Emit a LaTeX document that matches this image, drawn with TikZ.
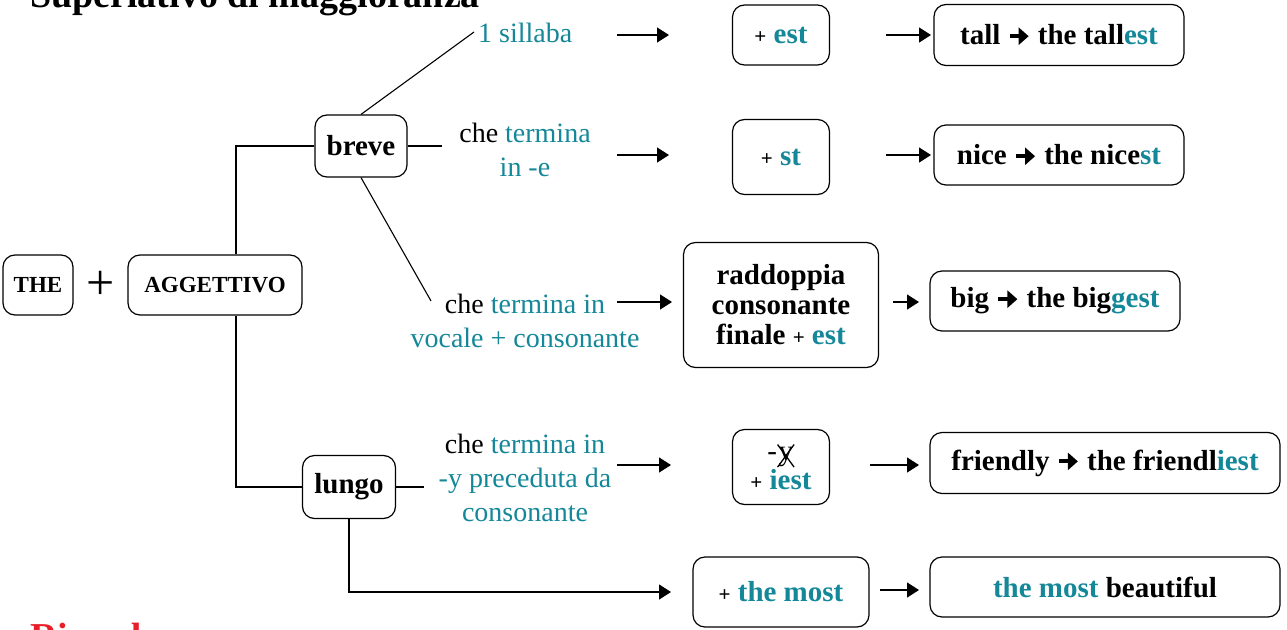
\documentclass[tikz,border=0pt]{standalone}
\usepackage{fontspec}
\setmainfont{Liberation Serif}
\usetikzlibrary{arrows.meta}
\definecolor{tl}{RGB}{20,135,152}
\definecolor{rd}{RGB}{232,30,40}
\newcommand\barr{\tikz[baseline={(0pt,-0.3em)}]\draw[line width=4pt,-{Triangle[length=10pt,width=17pt]}] (0pt,0pt) -- (19pt,0pt);}
\newcommand\crossy{\tikz[baseline=(Y.base)]{\node[inner sep=0pt,outer sep=0pt,minimum width=0pt,minimum height=0pt,draw=none] (Y) {y}; \draw[line width=1.3pt,sharp corners] ([xshift=-1pt]Y.south west) -- ([xshift=1pt,yshift=3pt]Y.north east) ([xshift=-1pt,yshift=3pt]Y.north west) -- ([xshift=1pt]Y.south east);}}
\newcommand\pl{{\fontsize{21}{21}\selectfont+}}
\begin{document}
\begin{tikzpicture}[x=1pt,y=-1pt,
 box/.style={draw, line width=1.2pt, rounded corners=12pt, align=center, inner sep=0pt},
 arr/.style={line width=1.3pt, -{Triangle[length=12pt,width=15pt]}},
 ln/.style={line width=1.1pt},
 lab/.style={align=center, font=\fontsize{28}{34}\selectfont, inner sep=0pt},
 bf/.style={font=\fontsize{29}{30}\selectfont\bfseries},
 sm/.style={font=\fontsize{23}{25}\selectfont\bfseries}]
\useasboundingbox (0,0) rectangle (1287,629);
% title and footer (cut off as in the reference)
\node[anchor=base west, inner sep=0pt, font=\fontsize{38}{40}\selectfont\bfseries] (title) at (30,8) {Superlativo di maggioranza};
\node[anchor=base west, inner sep=0pt, text=rd, font=\fontsize{38}{40}\selectfont\bfseries] (ric) at (30,649) {Ricorda:};
% left part
\node[box, sm, minimum width=70, minimum height=60] (the) at (38,285) {THE};
\node[font=\fontsize{50}{50}\selectfont, inner sep=0pt] (plus) at (101,285) {+};
\node[box, sm, minimum width=174, minimum height=60] (agg) at (215,285) {AGGETTIVO};
\node[box, bf, minimum width=92, minimum height=62] (breve) at (361,146) {breve};
\node[box, bf, minimum width=93, minimum height=63] (lungo) at (349,487) {lungo};
\coordinate (j1) at (236,146);
\coordinate (j2) at (236,487);
\draw[ln] (breve.west) -- (j1) -- (j1 |- agg.north);
\draw[ln] (lungo.west) -- (j2) -- (j2 |- agg.south);
% labels
\node[lab, anchor=base west] (l1) at (478,42) {\textcolor{tl}{1 sillaba}};
\node[lab] (l2) at (525,150) {che \textcolor{tl}{termina}\\\textcolor{tl}{in -e}};
\node[lab] (l3) at (525,321) {che \textcolor{tl}{termina in}\\\textcolor{tl}{vocale + consonante}};
\node[lab] (l4) at (525,478) {che \textcolor{tl}{termina in}\\\textcolor{tl}{-y preceduta da}\\\textcolor{tl}{consonante}};
\coordinate (c1) at (474,32);
\coordinate (c2) at (442,146);
\coordinate (c3) at (431,301);
\coordinate (c4) at (424,487);
\draw[ln] (breve.north) -- (c1);
\draw[ln] (breve.east) -- (c2);
\draw[ln] (breve.south) -- (c3);
\draw[ln] (lungo.east) -- (c4);
% middle boxes
\node[box, bf, minimum width=97, minimum height=60] (b1) at (781,35) {\pl\ \textcolor{tl}{est}};
\node[box, bf, minimum width=97, minimum height=75] (b2) at (781,157) {\pl\ \textcolor{tl}{st}};
\node[box, bf, minimum width=195, minimum height=125] (b3) at (781,305) {raddoppia\\consonante\\finale \pl\ \textcolor{tl}{est}};
\node[box, bf, minimum width=97, minimum height=75] (b4) at (781,467) {{\mdseries -\crossy}\\[-1pt]\pl\ \textcolor{tl}{iest}};
\node[box, bf, minimum width=176, minimum height=70] (b5) at (781,592) {\pl\ \textcolor{tl}{the most}};
% result boxes
\node[box, bf, minimum width=250, minimum height=61] (r1) at (1059,35) {tall \barr\ the tall\textcolor{tl}{est}};
\node[box, bf, minimum width=250, minimum height=60] (r2) at (1059,155) {nice \barr\ the nice\textcolor{tl}{st}};
\node[box, bf, minimum width=250, minimum height=60] (r3) at (1055,301) {big \barr\ the big\textcolor{tl}{gest}};
\node[box, bf, minimum width=350, minimum height=61] (r4) at (1105,463) {friendly \barr\ the friendl\textcolor{tl}{iest}};
\node[box, bf, minimum width=350, minimum height=60] (r5) at (1105,587) {\textcolor{tl}{the most} beautiful};
% arrows
\coordinate (a1) at (617,35);  \coordinate (e1) at (669,35);
\coordinate (a2) at (617,155); \coordinate (e2) at (669,155);
\coordinate (a3) at (617,302); \coordinate (e3) at (672,302);
\coordinate (a4) at (617,465); \coordinate (e4) at (671,465);
\coordinate (e5) at (671,592);
\draw[arr] (a1) -- (e1);
\draw[arr] (a2) -- (e2);
\draw[arr] (a3) -- (e3);
\draw[arr] (a4) -- (e4);
\draw[arr] (lungo.south) |- (e5);
\coordinate (m1) at (886,35);  \coordinate (n1) at (931,35);
\coordinate (m2) at (886,155); \coordinate (n2) at (931,155);
\coordinate (m3) at (893,302); \coordinate (n3) at (919,302);
\coordinate (m4) at (870,465); \coordinate (n4) at (919,465);
\coordinate (m5) at (880,590); \coordinate (n5) at (919,590);
\draw[arr] (m1) -- (n1);
\draw[arr] (m2) -- (n2);
\draw[arr] (m3) -- (n3);
\draw[arr] (m4) -- (n4);
\draw[arr] (m5) -- (n5);
\end{tikzpicture}
\end{document}
